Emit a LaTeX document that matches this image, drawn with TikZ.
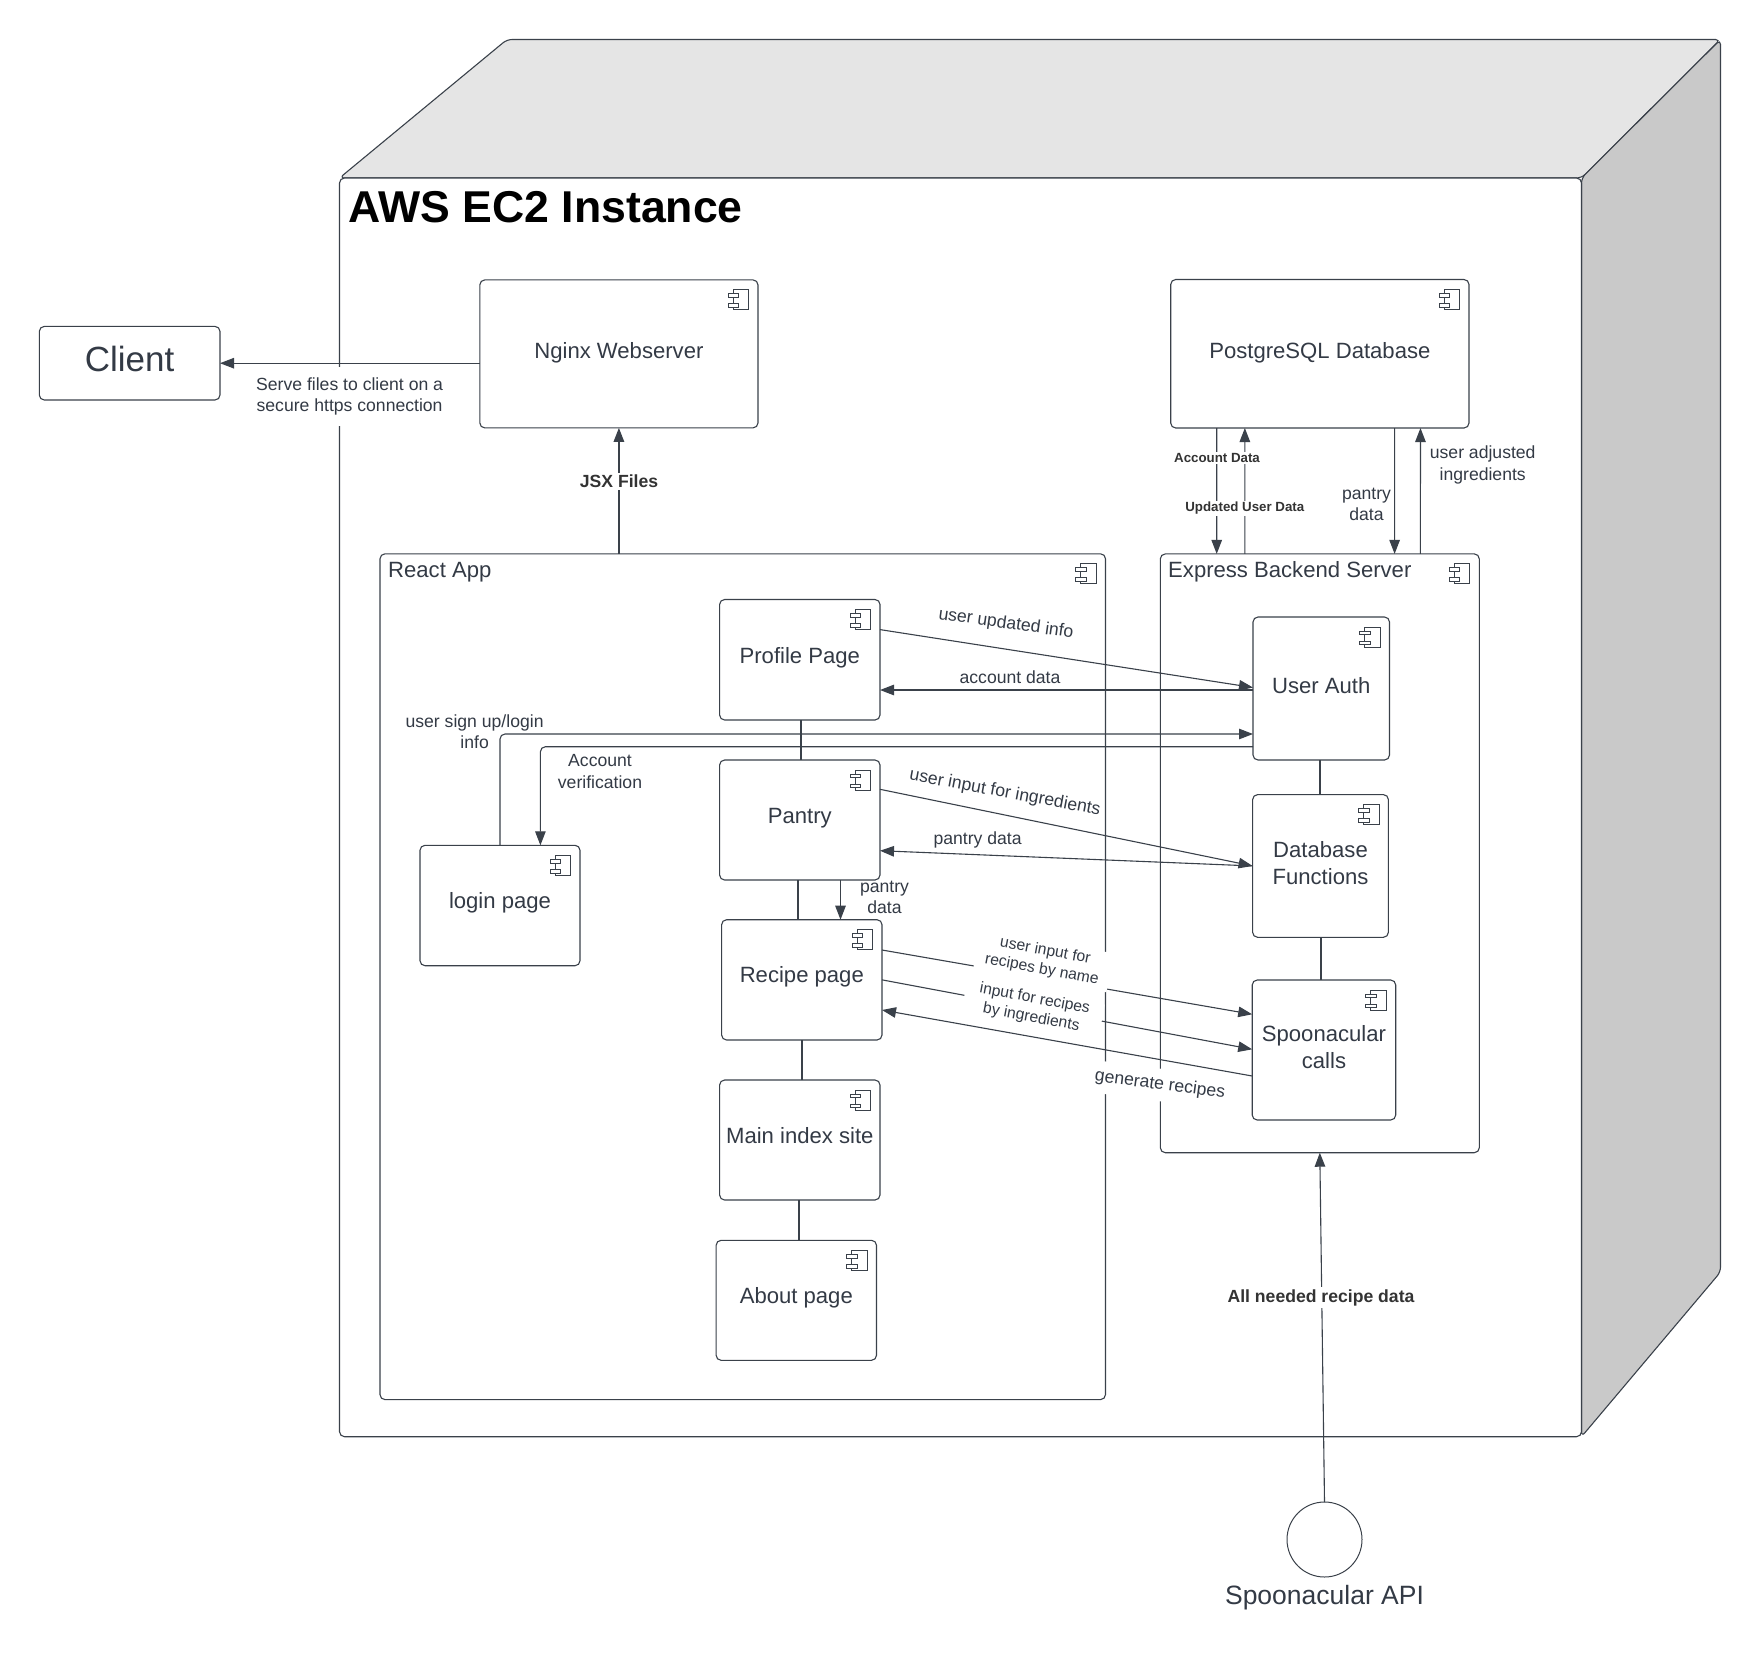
\documentclass[tikz,border=0pt]{standalone}
\usepackage{fontspec}
\setmainfont{Liberation Sans}
\usetikzlibrary{arrows.meta}
\definecolor{linecol}{HTML}{3A414A}
\definecolor{textcol}{HTML}{333A45}
\definecolor{topface}{HTML}{E5E5E5}
\definecolor{sideface}{HTML}{C9C9C9}
\newcommand{\fcomp}{\fontsize{22.1}{27}\selectfont}
\newcommand{\flab}{\fontsize{17.6}{21.5}\selectfont}
\newcommand{\ftiny}{\fontsize{15.7}{19}\selectfont}
\newcommand{\twolines}[2]{\parbox[t]{128pt}{\centering #1\\#2}}
\tikzset{
  comp/.style={draw=linecol,line width=1.1pt,rounded corners=5pt,inner sep=0pt,outer sep=0pt,text=textcol,align=center,font=\fcomp},
  compone/.style={comp,text height=16pt,text depth=10pt},
  comptall/.style={comp,text height=16pt,text depth=6pt},
  comptwo/.style={comp,text height=16pt,text depth=33pt},
  conn/.style={draw=linecol,line width=1.1pt,rounded corners=5pt},
  flow/.style={conn,-{Triangle[length=14pt,width=10.5pt]}},
  link/.style={draw=linecol,line width=1.8pt},
  lab/.style={text=textcol,font=\flab,align=center,inner sep=0pt},
  whitelab/.style={lab,fill=white},
  boldlab/.style={whitelab,font=\flab\bfseries,text=black!80,inner xsep=2pt,inner ysep=2pt},
}
\begin{document}
\begin{tikzpicture}[x=1pt,y=-1pt]
\useasboundingbox (0,0) rectangle (1760,1670);
% the box round everything
\draw[conn,fill=topface] (339.5,178) -- (507,39.5) -- (1720.5,39.5) -- (1581.5,178) -- cycle;
\draw[conn,fill=sideface] (1581.5,178) -- (1720.5,39.5) -- (1720.5,1272) -- (1581.5,1436.7) -- cycle;
\draw[conn,fill=white] (339.5,178) rectangle (1581.5,1436.7);
\node[anchor=base west,inner sep=0pt,font=\fontsize{44.6}{50}\selectfont\bfseries] (awstitle) at (348.5,222) {AWS EC2 Instance};

\node[comp,minimum width=180.7pt,minimum height=73.6pt,font=\fontsize{35}{40}\selectfont,text height=25pt,text depth=8pt] (client) at (129.65,363.2) {Client};
\node[comptall,minimum width=278.2pt,minimum height=148pt] (nginx) at (618.9,353.9) {Nginx Webserver};
\node[comptall,minimum width=298.3pt,minimum height=148.5pt] (postgres) at (1319.85,353.75) {PostgreSQL Database};
\node[comp,minimum width=725.5pt,minimum height=845.8pt] (react) at (742.75,976.7) {};
\node[comp,minimum width=319pt,minimum height=598.8pt] (express) at (1319.8,853.3) {};
\node[anchor=base west,lab,font=\fcomp] (reacttitle) at (388,577) {React App};
\node[anchor=base west,lab,font=\fcomp] (expresstitle) at (1168,577) {Express Backend Server};

\node[compone,text depth=8pt,minimum width=160.4pt,minimum height=120.5pt] (profile) at (799.8,659.75) {Profile Page};
\node[compone,minimum width=160.4pt,minimum height=120pt] (pantry) at (799.8,820) {Pantry};
\node[compone,minimum width=160.4pt,minimum height=120.3pt] (recipe) at (801.8,979.85) {Recipe page};
\node[compone,minimum width=160.4pt,minimum height=120pt] (mainidx) at (799.8,1140) {Main index site};
\node[compone,minimum width=160.4pt,minimum height=120pt] (about) at (796.3,1300.3) {About page};
\node[compone,minimum width=160pt,minimum height=120.4pt] (login) at (500,905.5) {login page};
\node[comptall,minimum width=136.5pt,minimum height=143pt] (auth) at (1321.25,688.5) {User Auth};
\node[comptwo,minimum width=135.8pt,minimum height=142.7pt] (dbf) at (1320.5,865.95) {\twolines{Database}{Functions}};
\node[comptwo,minimum width=143.5pt,minimum height=140pt] (spoon) at (1323.95,1050) {\twolines{Spoonacular}{calls}};
\node[draw=linecol,line width=1pt,circle,minimum size=75pt,inner sep=0pt,outer sep=0pt] (api) at (1324.5,1539.5) {};
\node[lab,font=\fontsize{26.5}{30}\selectfont] (apilab) at (1324.5,1598) {Spoonacular API};

% component icons
\foreach \n in {nginx,postgres,react,express,profile,pantry,recipe,mainidx,about,login,auth,dbf,spoon}{
\draw[draw=linecol,line width=0.9pt,shift={(\n.north east)}] (-25,10) rectangle (-9.4,30);
\draw[draw=linecol,line width=0.9pt,fill=white,shift={(\n.north east)}] (-30,14) rectangle (-19.4,17.7);
\draw[draw=linecol,line width=0.9pt,fill=white,shift={(\n.north east)}] (-30,24) rectangle (-19.4,27.7);
}

\draw[flow] (nginx.west |- client.east) -- (client.east);
\draw[flow,line width=1.5pt] (react.north -| nginx.south) -- (nginx.south);
\draw[flow] ([xshift=-103.1pt]postgres.south) -- ([xshift=-103.1pt]express.north);
\draw[flow] ([xshift=-75pt]express.north) -- ([xshift=-75pt]postgres.south);
\draw[flow] ([xshift=74.8pt]postgres.south) -- ([xshift=74.8pt]express.north);
\draw[flow] ([xshift=100.6pt]express.north) -- ([xshift=100.6pt]postgres.south);
\draw[flow] ([yshift=30.15pt]profile.east) -- ([yshift=1pt]auth.west);
\draw[flow] ([yshift=-1.5pt]auth.west) -- ([yshift=-30.25pt]profile.east);
\draw[flow] (login.north) |- ([yshift=-45.5pt]auth.west);
\draw[flow] ([yshift=-58.2pt]auth.west) -| ([xshift=40.4pt]login.north);
\draw[link] ([xshift=0.9pt]profile.south) -- ([xshift=0.9pt]pantry.north);
\draw[link] ([xshift=-2.2pt]pantry.south) -- ([xshift=-4.2pt]recipe.north);
\draw[flow] ([xshift=40.7pt]pantry.south) -- ([xshift=38.7pt]recipe.north);
\draw[link] (recipe.south) -- ([xshift=2pt]mainidx.north);
\draw[link] ([xshift=-1.2pt]mainidx.south) -- ([xshift=2.3pt]about.north);
\draw[link] ([xshift=-1.25pt]auth.south) -- ([xshift=-0.5pt]dbf.north);
\draw[link] ([xshift=0.5pt]dbf.south) -- ([xshift=-2.95pt]spoon.north);
\draw[flow] ([yshift=30.7pt]pantry.east) -- (dbf.west);
\draw[flow] (dbf.west) -- ([yshift=-30.7pt]pantry.east);
\draw[flow] ([yshift=29.85pt]recipe.east) -- ([yshift=35.7pt]spoon.west);
\draw[flow] (recipe.east) -- ([yshift=0.7pt]spoon.west);
\draw[flow] ([yshift=-26pt]spoon.west) -- ([yshift=-30.15pt]recipe.east);
\draw[flow] (api.north) -- (express.south);

% labels on the connectors
\node[whitelab,inner xsep=6pt,inner ysep=11pt] (servelab) at (349.6,396.5) {Serve files to client on a\\secure https connection};
\node[boldlab] (jsxlab) at (619,481.5) {JSX Files};
\node[boldlab,font=\fontsize{13.3}{16}\selectfont\bfseries,inner ysep=1pt] (acclab) at (1217,458) {Account Data};
\node[boldlab,font=\fontsize{13.3}{16}\selectfont\bfseries,inner ysep=1pt] (updlab) at (1244.8,508.5) {Updated User Data};
\node[lab] (pantrylab) at (1366.5,504.5) {pantry\\data};
\node[lab] (adjlab) at (1482.7,465) {user adjusted\\ingredients};
\node[lab,rotate=-8] (updinfolab) at (1006,624) {user updated info};
\node[lab] (acctlab) at (1010,677) {account data};
\node[lab] (signlab) at (474.6,731.5) {user sign up/login\\info};
\node[lab] (veriflab) at (600,771.5) {Account\\verification};
\node[lab,rotate=-10.5] (inglab) at (1005,793) {user input for ingredients};
\node[lab] (pdatalab) at (977.6,840) {pantry data};
\node[lab] (pdatalabb) at (884.5,897.5) {pantry\\data};
\node[whitelab,font=\ftiny,rotate=-10.5,inner xsep=14pt,inner ysep=0pt] (byinglab) at (1033,1008.5) {input for recipes\\by ingredients};
\node[whitelab,font=\ftiny,rotate=-10.5,inner xsep=10pt,inner ysep=3pt] (namelab) at (1043.5,960.5) {user input for\\recipes by name};
\node[whitelab,rotate=-7.5,inner xsep=4pt,inner ysep=8pt] (genlab) at (1160,1085) {generate recipes};
\node[boldlab] (alllab) at (1321,1297.5) {All needed recipe data};
\end{tikzpicture}
\end{document}
